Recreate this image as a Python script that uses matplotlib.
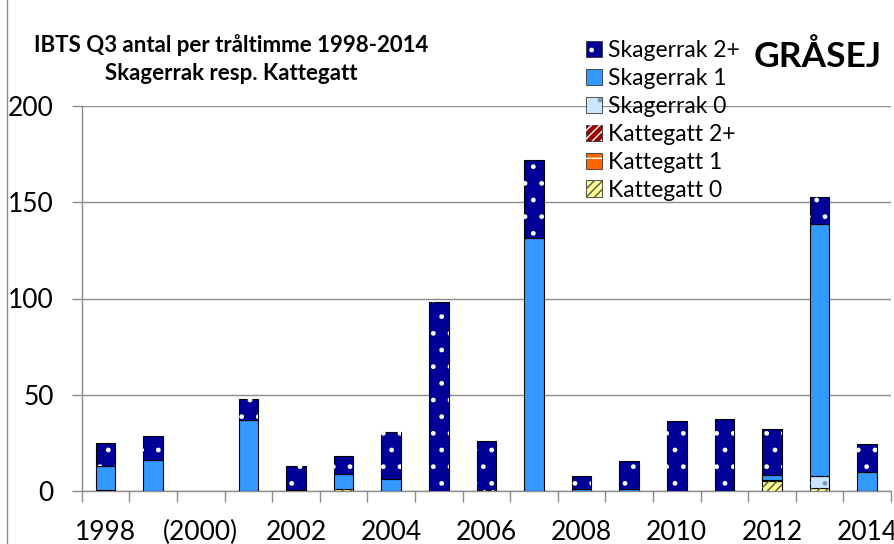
import numpy as np
import matplotlib.pyplot as plt
from matplotlib.patches import Patch, Rectangle
from matplotlib.legend_handler import HandlerTuple

plt.rcParams['font.family'] = ['Lato', 'DejaVu Sans']
plt.rcParams['hatch.linewidth'] = 1.0

# data (antal per tråltimme)
years = ['1998', '1999', '(2000)', '2001', '2002', '2003', '2004', '2005', '2006',
         '2007', '2008', '2009', '2010', '2011', '2012', '2013', '2014']
kat0 = [0, 0, 0, 0, 0, 0.8, 0, 0, 0, 0, 0, 0, 0, 0, 5.0, 1.6, 0]
kat1 = [0, 0, 0, 0, 0, 0, 0, 0, 0, 0, 0, 0, 0, 0, 0, 0, 0]
kat2 = [0, 0, 0, 0, 0, 0, 0, 0, 0.5, 0, 0, 0, 0, 0, 0, 0, 0]
skag0 = [0.3, 0, 0, 0, 0, 0, 0, 0, 0, 0, 0, 0, 0, 0, 0.9, 6.2, 0]
skag1 = [12.5, 16.3, 0, 36.7, 0.3, 8.0, 6.4, 0, 0, 131.4, 0.9, 0.8, 0, 0, 2.4, 130.9, 10.0]
skag2 = [12.3, 12.4, 0, 11.1, 12.9, 9.4, 24.1, 98.2, 25.3, 40.6, 6.7, 14.6, 36.5, 37.4, 24.1, 14.0, 14.3]

series = [
    ('Kattegatt 0', kat0, '#FFFF99', '////', '#555533'),
    ('Kattegatt 1', kat1, '#FF6600', '-', 'white'),
    ('Kattegatt 2+', kat2, '#990000', '////', 'white'),
    ('Skagerrak 0', skag0, '#CCE8FF', '.', '#7799BB'),
    ('Skagerrak 1', skag1, '#3399FF', None, None),
    ('Skagerrak 2+', skag2, '#000099', '.', 'white'),
]

fig = plt.figure(figsize=(8.94, 5.44), dpi=100)
ax = fig.add_axes([81.7 / 894, 1 - 491 / 544, (891 - 81.7) / 894, (491 - 106) / 544])

x = np.arange(len(years))
w = 0.41
bottom = np.zeros(len(years))
handles = {}
for name, vals, fc, hatch, hc in series:
    vals = np.array(vals, dtype=float)
    lw = np.where(vals > 0, 0.8, 0)
    ax.bar(x, vals, w, bottom=bottom, color=fc, edgecolor='black', linewidth=lw, zorder=3)
    h_fill = Patch(facecolor=fc, edgecolor='#333333', linewidth=0.6)
    if hatch:
        ax.bar(x, vals, w, bottom=bottom, color='none', edgecolor=hc, hatch=hatch,
               linewidth=0, zorder=4)
        h_hatch = Patch(facecolor='none', edgecolor=hc, hatch=hatch, linewidth=0)
        handles[name] = (h_fill, h_hatch)
    else:
        handles[name] = (h_fill,)
    bottom += vals

ax.set_xlim(-0.5, len(years) - 0.5)
ax.set_ylim(0, 200)
ax.set_yticks([0, 50, 100, 150, 200])
ax.yaxis.grid(True, color='#8c8c8c', linewidth=1.0, zorder=0)
ax.set_axisbelow(True)

# labels every second year, ticks between categories
ax.set_xticks(x[::2])
ax.set_xticklabels(years[::2])
ax.set_xticks(np.arange(-0.5, len(years), 1), minor=True)
ax.tick_params(axis='x', which='major', length=0, pad=21, labelsize=19)
ax.tick_params(axis='x', which='minor', length=8, color='#8c8c8c', width=1)
ax.tick_params(axis='y', length=7, color='#8c8c8c', width=1, labelsize=19, pad=13)

for s in ['top', 'right']:
    ax.spines[s].set_visible(False)
for s in ['left', 'bottom']:
    ax.spines[s].set_color('#8c8c8c')
    ax.spines[s].set_linewidth(1)

# chart frame (left edge)
fig.patches.append(Rectangle((7 / 894, -0.1), 1.2, 1.3, transform=fig.transFigure,
                             facecolor='none', edgecolor='#8c8c8c', linewidth=1))

fig.text(231 / 894, 1 - 45 / 544, 'IBTS Q3 antal per tråltimme 1998-2014',
         ha='center', va='center', fontsize=16, fontweight='bold')
fig.text(231 / 894, 1 - 74 / 544, 'Skagerrak resp. Kattegatt',
         ha='center', va='center', fontsize=16, fontweight='bold')
fig.text(818 / 894, 1 - 57 / 544, 'GRÅSEJ', ha='center', va='center',
         fontsize=25.5, fontweight='bold')

order = ['Skagerrak 2+', 'Skagerrak 1', 'Skagerrak 0', 'Kattegatt 2+', 'Kattegatt 1', 'Kattegatt 0']
leg = fig.legend([handles[n] for n in order], order,
                 handler_map={tuple: HandlerTuple(ndivide=1, pad=0)},
                 loc='upper left', bbox_to_anchor=(577 / 894, 1 - 31 / 544),
                 frameon=False, fontsize=16.5, handlelength=0.7, handleheight=0.7,
                 handletextpad=0.25, labelspacing=0.3, borderaxespad=0)

fig.savefig('out.png', dpi=100)
